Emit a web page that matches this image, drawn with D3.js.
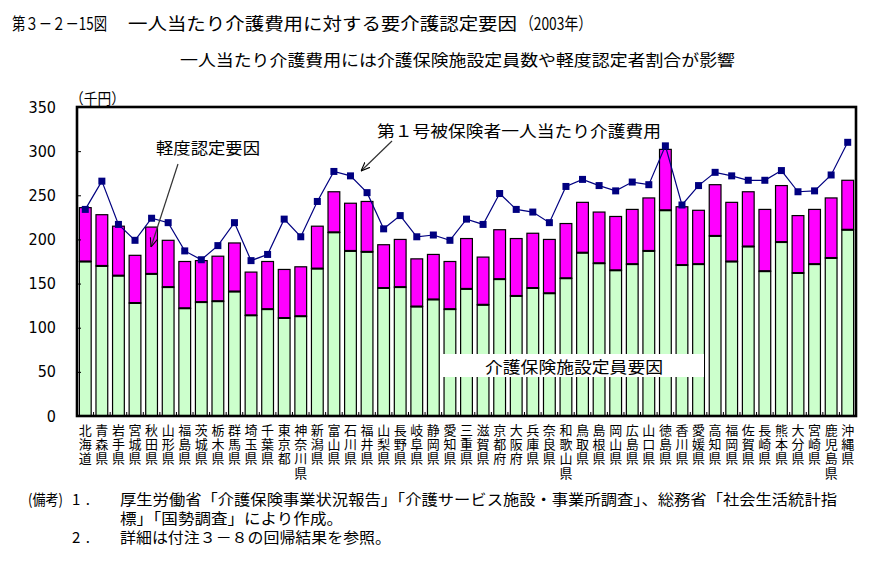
<!DOCTYPE html>
<html><head><meta charset="utf-8">
<script src="https://cdn.jsdelivr.net/npm/d3@7"></script>
<style>
body{margin:0;background:#fff;}
text{font-family:"Noto Sans CJK JP","Noto Sans",sans-serif;fill:#000;}
.num{font-family:"Liberation Sans Narrow","DejaVu Sans Condensed","Liberation Sans",sans-serif;}
.vt{writing-mode:vertical-rl;text-orientation:upright;}
</style></head>
<body><svg id="c" width="894" height="570"></svg>
<script>
const prefectures = ["北海道","青森県","岩手県","宮城県","秋田県","山形県","福島県","茨城県","栃木県","群馬県","埼玉県","千葉県","東京都","神奈川県","新潟県","富山県","石川県","福井県","山梨県","長野県","岐阜県","静岡県","愛知県","三重県","滋賀県","京都府","大阪府","兵庫県","奈良県","和歌山県","鳥取県","島根県","岡山県","広島県","山口県","徳島県","香川県","愛媛県","高知県","福岡県","佐賀県","長崎県","熊本県","大分県","宮崎県","鹿児島県","沖縄県"];
// 介護保険施設定員要因 (千円)
const facilityFactor = [175,170,159,128,161,146,122,129,130,141,114,121,111,113,167,208,187,186,145,146,124,132,121,144,126,155,136,145,139,156,185,173,165,172,187,233,171,172,204,175,192,164,197,162,172,179,211];
// 軽度認定要因 (千円)
const mildFactor = [61,58,56,54,53,53,53,47,51,55,49,54,55,56,48,46,54,57,49,54,54,51,54,57,54,56,65,62,61,62,57,58,61,62,60,69,66,61,58,67,62,70,64,65,62,68,56];
// 第1号被保険者一人当たり介護費用 (千円)
const costPerPerson = [234,266,217,199,224,219,187,177,193,219,176,183,223,203,243,277,272,253,212,227,203,205,199,223,217,252,234,231,219,260,268,261,255,265,262,306,239,261,276,272,267,267,278,254,255,273,310];
const yTicks = [0,50,100,150,200,250,300,350];

const svg = d3.select("#c");
const L=77, R=856, T=107, B=416;
const x = d3.scaleBand().domain(prefectures).range([L,R]).paddingInner(0.29).paddingOuter(0.145);
const y = d3.scaleLinear().domain([0,350]).range([B,T]);

function fitText(str, x0, x1, yc, size, adj){
  svg.append("text").attr("x",x0).attr("y",yc)
    .attr("dominant-baseline","central").attr("font-size",size)
    .attr("textLength",x1-x0).attr("lengthAdjust",adj||"spacingAndGlyphs").text(str);
}
fitText("第３－２－15図",12,107,22,17);
fitText("一人当たり介護費用に対する要介護認定要因",128,517,22,17);
fitText("（2003年）",520,592,22,17);
fitText("一人当たり介護費用には介護保険施設定員数や軽度認定者割合が影響",180,735,59,16);
fitText("（千円）",70,125,97,15);

// bars
const g = svg.append("g");
prefectures.forEach((p,i)=>{
  const x0 = x(p), w = x.bandwidth();
  g.append("rect").attr("x",x0).attr("y",y(facilityFactor[i])).attr("width",w)
    .attr("height",y(0)-y(facilityFactor[i])).attr("fill","#CCFFCC").attr("stroke","#000").attr("stroke-width",1.2);
  g.append("rect").attr("x",x0).attr("y",y(facilityFactor[i]+mildFactor[i])).attr("width",w)
    .attr("height",y(facilityFactor[i])-y(facilityFactor[i]+mildFactor[i])).attr("fill","#FF00FF").attr("stroke","#000").attr("stroke-width",1.2);
  g.append("line").attr("x1",x0).attr("x2",x0+w).attr("y1",y(facilityFactor[i])).attr("y2",y(facilityFactor[i]))
    .attr("stroke","#000").attr("stroke-width",2);
});

// label box
svg.append("rect").attr("x",443).attr("y",354).attr("width",261).attr("height",23).attr("fill","#fff");
fitText("介護保険施設定員要因",485,663,366,16);

// line + square markers
const lineGen = d3.line().x((d,i)=>x(prefectures[i])+x.bandwidth()/2).y(d=>y(d));
svg.append("path").datum(costPerPerson).attr("d",lineGen).attr("fill","none").attr("stroke","#000080").attr("stroke-width",1.2);
svg.selectAll("rect.mk").data(costPerPerson).enter().append("rect").attr("class","mk")
  .attr("x",(d,i)=>x(prefectures[i])+x.bandwidth()/2-3.5).attr("y",d=>y(d)-3.5)
  .attr("width",7).attr("height",7).attr("fill","#000080");

// frame
svg.append("rect").attr("x",L).attr("y",T).attr("width",R-L).attr("height",B-T)
  .attr("fill","none").attr("stroke","#000").attr("stroke-width",2.6);

// y axis
const yAxis = d3.axisRight(y).tickValues(yTicks).tickSize(4).tickFormat("");
const ya = svg.append("g").attr("transform",`translate(${L},0)`).call(yAxis);
ya.select(".domain").remove();
ya.selectAll("line").attr("stroke","#000").attr("stroke-width",1);
yTicks.forEach(v=>{
  svg.append("text").attr("class","num").attr("x",56).attr("y",y(v)).attr("text-anchor","end")
    .attr("dominant-baseline","central").attr("font-size",16).text(v);
});

// x category ticks
const step = x.step();
for(let i=0;i<=prefectures.length;i++){
  const xx = L + i*step;
  svg.append("line").attr("x1",xx).attr("x2",xx).attr("y1",B).attr("y2",B-4).attr("stroke","#000").attr("stroke-width",1);
}

// category labels (vertical)
prefectures.forEach((p,i)=>{
  const cx = x(p)+x.bandwidth()/2;
  svg.append("text").attr("class","vt").attr("x",cx).attr("y",423.5)
    .attr("font-size",13).attr("letter-spacing",1.2).text(p);
});

// annotations
svg.append("defs").append("marker").attr("id","arr").attr("viewBox","0 0 10 10").attr("refX",10).attr("refY",5)
  .attr("markerWidth",9).attr("markerHeight",9).attr("markerUnits","userSpaceOnUse").attr("orient","auto")
  .append("path").attr("d","M0,1 L10,5 L0,9").attr("fill","none").attr("stroke","#000").attr("stroke-width",1.2);
fitText("軽度認定要因",156,260,147,16);
svg.append("line").attr("x1",178).attr("y1",164).attr("x2",151).attr("y2",247).attr("stroke","#333").attr("stroke-width",1.2).attr("marker-end","url(#arr)");
fitText("第１号被保険者一人当たり介護費用",377,661,130,16);
svg.append("line").attr("x1",392).attr("y1",141).attr("x2",361).attr("y2",171).attr("stroke","#333").attr("stroke-width",1.2).attr("marker-end","url(#arr)");

// notes
fitText("(備考)",28,63,498,15);
fitText("1.",72,90,498,15,"spacing");
fitText("厚生労働省「介護保険事業状況報告」「介護サービス施設・事業所調査」、総務省「社会生活統計指",120,837,498,15);
fitText("標」「国勢調査」により作成。",120,343,517,15);
fitText("2.",72,90,536,15,"spacing");
fitText("詳細は付注３－８の回帰結果を参照。",120,391,536,15);
</script></body></html>
